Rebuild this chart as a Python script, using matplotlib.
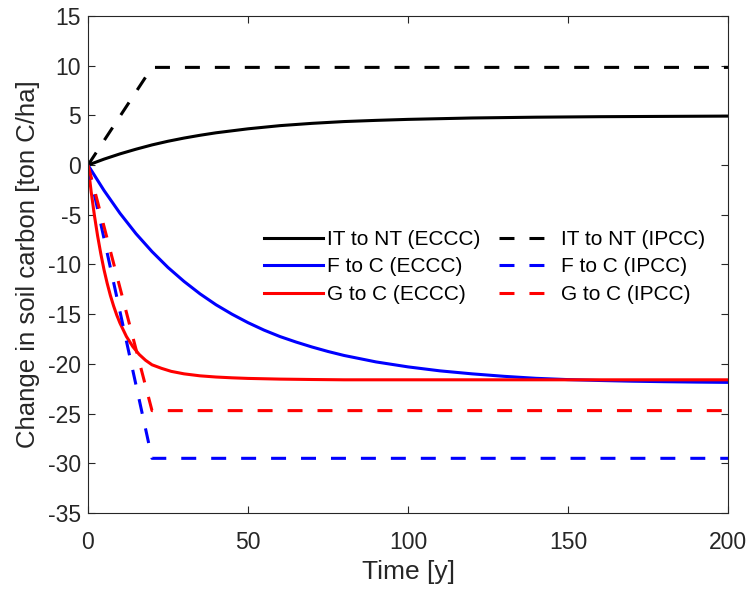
import matplotlib
matplotlib.use("Agg")
import matplotlib.pyplot as plt

plt.rcParams['font.family'] = ['Liberation Sans', 'DejaVu Sans']
plt.rcParams['axes.unicode_minus'] = False

# ---- data ----
t_it_eccc = [0, 5, 10, 15, 20, 25, 30, 35, 40, 50, 60, 70, 80, 90, 100, 120, 140, 160, 180, 200]
v_it_eccc = [0, 0.60, 1.13, 1.60, 2.03, 2.40, 2.72, 3.00, 3.25, 3.65, 3.97, 4.20, 4.38, 4.50,
             4.60, 4.74, 4.82, 4.87, 4.90, 4.93]

t_f_eccc = [0, 5, 10, 15, 20, 25, 30, 35, 40, 45, 50, 55, 60, 65, 70, 75, 80, 90, 100,
            110, 120, 130, 140, 150, 160, 170, 180, 190, 200]
v_f_eccc = [0, -2.55, -4.85, -6.9, -8.7, -10.3, -11.7, -12.95, -14.05, -15.0, -15.85, -16.6,
            -17.25, -17.8, -18.3, -18.75, -19.15, -19.8, -20.3, -20.7, -21.0, -21.25, -21.45,
            -21.58, -21.67, -21.74, -21.79, -21.83, -21.86]

t_g_eccc = [0, 1, 2, 3, 4, 5, 6, 7, 8, 9, 10, 12, 14, 16, 18, 20, 23, 26, 30, 35, 40, 45,
            50, 60, 70, 80, 100, 150, 200]
v_g_eccc = [0, -2.70, -5.06, -7.12, -8.92, -10.52, -11.90, -13.12, -14.17, -15.10, -15.90,
            -17.24, -18.26, -19.05, -19.64, -20.09, -20.45, -20.75, -21.0, -21.2, -21.32,
            -21.4, -21.46, -21.53, -21.57, -21.6, -21.6, -21.6, -21.6]

t_ipcc = [0, 20, 200]
v_it_ipcc = [0, 9.83, 9.83]
v_f_ipcc = [0, -29.5, -29.5]
v_g_ipcc = [0, -24.7, -24.7]

labels = ['IT to NT (ECCC)', 'F to C (ECCC)', 'G to C (ECCC)',
          'IT to NT (IPCC)', 'F to C (IPCC)', 'G to C (IPCC)']

x_ticks = [0, 50, 100, 150, 200]
y_ticks = [15, 10, 5, 0, -5, -10, -15, -20, -25, -30, -35]

# ---- figure ----
fig = plt.figure(figsize=(7.52, 5.94), dpi=100)
ax = fig.add_axes([88/752, 1-513/594, 640/752, 497/594])

lw = 2.2
dash = (0, (4.9, 4.9))
ax.plot(t_it_eccc, v_it_eccc, color='black', lw=lw, label=labels[0])
ax.plot(t_f_eccc, v_f_eccc, color='blue', lw=lw, label=labels[1])
ax.plot(t_g_eccc, v_g_eccc, color='red', lw=lw, label=labels[2])
ax.plot(t_ipcc, v_it_ipcc, color='black', lw=lw, ls=dash, label=labels[3])
ax.plot(t_ipcc, v_f_ipcc, color='blue', lw=lw, ls=dash, label=labels[4])
ax.plot(t_ipcc, v_g_ipcc, color='red', lw=lw, ls=dash, label=labels[5])

ax.set_xlim(0, 200)
ax.set_ylim(-35, 15)
ax.set_xticks(x_ticks)
ax.set_yticks(y_ticks)

gray = '#262626'
for s in ax.spines.values():
    s.set_color(gray)
    s.set_linewidth(0.8)
ax.tick_params(direction='in', length=5, width=0.8, colors=gray, labelsize=16.5,
               top=True, right=True, labelcolor=gray)
ax.tick_params(axis='x', pad=13)
ax.tick_params(axis='y', pad=5)

ax.set_xlabel('Time [y]', fontsize=19, color=gray, labelpad=4)
ax.set_ylabel('Change in soil carbon [ton C/ha]', fontsize=18.5, color=gray, labelpad=6)

leg = ax.legend(ncol=2, loc='center', bbox_to_anchor=(0.62, 0.495), frameon=False,
                fontsize=15, handlelength=2.8, handletextpad=0.2, columnspacing=0.9,
                labelspacing=0.4, borderpad=0.2)

fig.savefig('out.png', dpi=100)
